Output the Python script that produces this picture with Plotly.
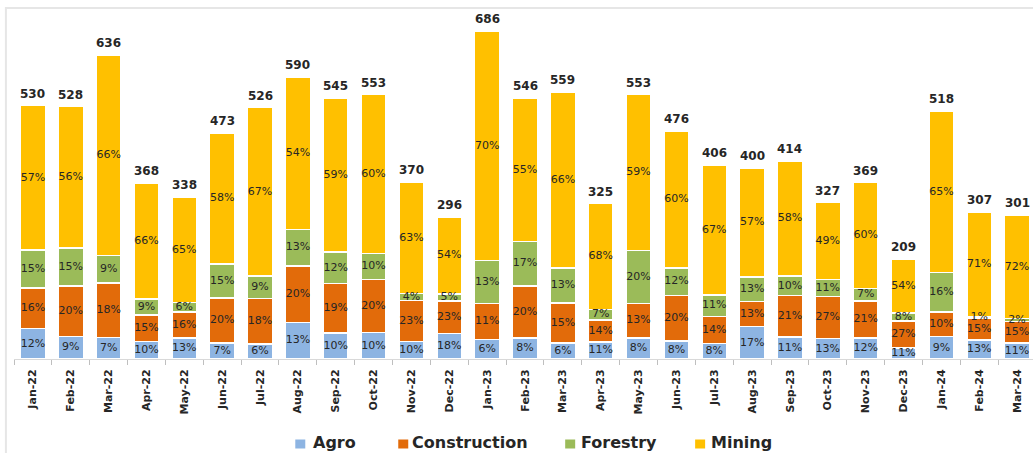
import numpy as np
import plotly.graph_objects as go

months = ["Jan-22","Feb-22","Mar-22","Apr-22","May-22","Jun-22","Jul-22","Aug-22","Sep-22",
          "Oct-22","Nov-22","Dec-22","Jan-23","Feb-23","Mar-23","Apr-23","May-23","Jun-23",
          "Jul-23","Aug-23","Sep-23","Oct-23","Nov-23","Dec-23","Jan-24","Feb-24","Mar-24"]
totals = [530,528,636,368,338,473,526,590,545,553,370,296,686,546,559,325,553,476,
          406,400,414,327,369,209,518,307,301]
agro_pct = [12,9,7,10,13,7,6,13,10,10,10,18,6,8,6,11,8,8,8,17,11,13,12,11,9,13,11]
construction_pct = [16,20,18,15,16,20,18,20,19,20,23,23,11,20,15,14,13,20,14,13,21,27,21,27,10,15,15]
forestry_pct = [15,15,9,9,6,15,9,13,12,10,4,5,13,17,13,7,20,12,11,13,10,11,7,8,16,1,2]
mining_pct = [57,56,66,66,65,58,67,54,59,60,63,54,70,55,66,68,59,60,67,57,58,49,60,54,65,71,72]

series_names = ["Agro", "Construction", "Forestry", "Mining"]
series_colors = ["#8DB4E2", "#E26B0A", "#9BBB59", "#FFC000"]
series_pcts = [agro_pct, construction_pct, forestry_pct, mining_pct]

W, H = 1033, 453
ML, MT, MB = 13.6, 10, 94
PH = H - MT - MB
PW = W - ML


def px_x(px):
    return (px - ML) / PW


def px_y(py):
    return (MT + PH - py) / PH


tot = np.array(totals, dtype=float)
pct_sum = sum(np.array(p, dtype=float) for p in series_pcts)

fig = go.Figure()
base = np.zeros(len(months))
label_x, label_y, label_t = [], [], []
for name, pct, color in zip(series_names, series_pcts, series_colors):
    p = np.array(pct, dtype=float)
    vals = tot * p / pct_sum
    fig.add_trace(go.Bar(
        x=months, y=vals, name=name, showlegend=False,
        marker=dict(color=color, line=dict(color="white", width=1.5)),
        hoverinfo="skip",
    ))
    mids = base + vals / 2
    label_x += months
    label_y += list(mids)
    label_t += [f"{v}%" for v in pct]
    base = base + vals

fig.add_trace(go.Scatter(
    x=label_x, y=label_y, text=label_t, mode="text", showlegend=False, hoverinfo="skip",
    textfont=dict(family="DejaVu Sans", size=11, color="#262626"),
))

annotations = [
    dict(x=m, y=t, text=str(t), xref="x", yref="y", showarrow=False,
         yanchor="bottom", yshift=3,
         font=dict(family="DejaVu Sans", size=12, color="#262626", weight="bold"))
    for m, t in zip(months, totals)
]

# legend drawn as squares + labels at the reference's positions
legend_marker_px = [295, 398, 565, 695]
legend_text_px = [312, 411, 580, 710]
shapes = []
for name, color, mx, tx in zip(series_names, series_colors, legend_marker_px, legend_text_px):
    shapes.append(dict(type="rect", xref="paper", yref="paper",
                       x0=px_x(mx), x1=px_x(mx + 10), y0=px_y(448.5), y1=px_y(439.5),
                       fillcolor=color, line=dict(width=0)))
    annotations.append(dict(x=px_x(tx), y=px_y(442), xref="paper", yref="paper",
                            text=name, showarrow=False, xanchor="left", yanchor="middle",
                            borderpad=0,
                            font=dict(family="DejaVu Sans", size=16, color="#262626", weight="bold")))

shapes.append(dict(type="rect", xref="paper", yref="paper",
                   x0=px_x(5.5), x1=px_x(1045), y0=px_y(470), y1=px_y(8),
                   line=dict(color="#e6e6e6", width=2), layer="below"))

fig.update_layout(
    width=W, height=H,
    margin=dict(l=ML, r=0, t=MT, b=MB, pad=0, autoexpand=False),
    barmode="stack", bargap=0.34,
    plot_bgcolor="white", paper_bgcolor="white",
    showlegend=False,
    xaxis=dict(type="category", range=[-0.5, 26.42], showline=True, linecolor="#d9d9d9", linewidth=1,
               ticks="outside", tickson="boundaries", ticklen=5, tickcolor="#bfbfbf",
               tickangle=-90, showgrid=False, automargin=False, ticklabelstandoff=5,
               tickfont=dict(family="DejaVu Sans", size=11, color="#262626", weight="bold")),
    yaxis=dict(range=[0, 730], visible=False, showgrid=False),
    annotations=annotations,
    shapes=shapes,
)

fig.write_html("out.html", config={"displayModeBar": False},
               post_script="document.body.style.margin='0';document.body.style.overflow='hidden';")
